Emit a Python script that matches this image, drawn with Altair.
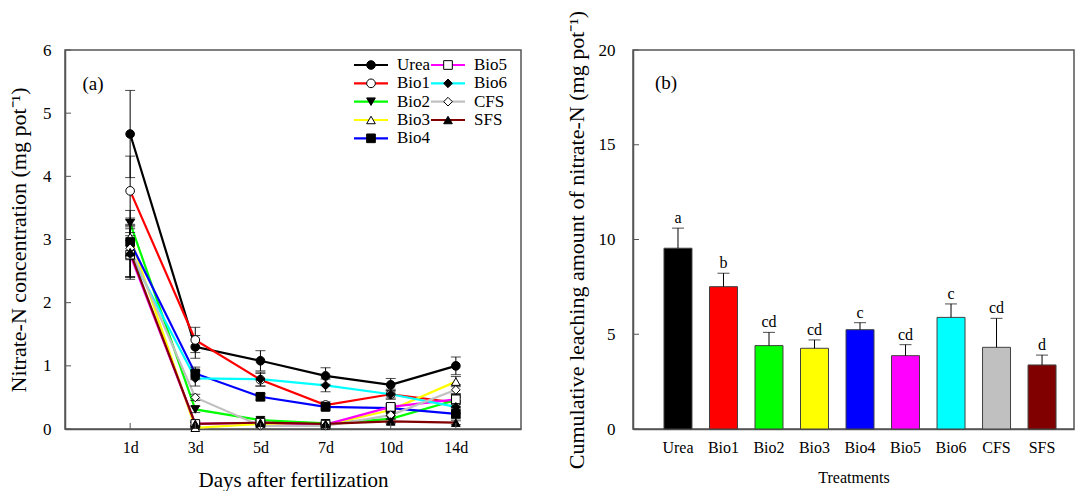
import altair as alt
import pandas as pd

# ---------------- data ----------------
days = ['1d', '3d', '5d', '7d', '10d', '14d']
series = ['Urea', 'Bio1', 'Bio2', 'Bio3', 'Bio4', 'Bio5', 'Bio6', 'CFS', 'SFS']
colors = ['#000000', '#FF0000', '#00FF00', '#FFFF00', '#0000FF',
          '#FF00FF', '#00FFFF', '#C0C0C0', '#800000']
shapes = ['circle', 'circle', 'triangle-down', 'triangle-up', 'square',
          'square', 'diamond', 'diamond', 'triangle-up']
fills = ['black', 'white', 'black', 'white', 'black',
         'white', 'black', 'white', 'black']

urea = [4.67, 1.30, 1.08, 0.84, 0.70, 1.00]
bio1 = [3.77, 1.41, 0.78, 0.38, 0.55, 0.42]
bio2 = [3.26, 0.31, 0.14, 0.09, 0.16, 0.46]
bio3 = [3.04, 0.02, 0.08, 0.06, 0.30, 0.75]
bio4 = [2.96, 0.88, 0.51, 0.35, 0.33, 0.24]
bio5 = [2.76, 0.08, 0.10, 0.07, 0.35, 0.47]
bio6 = [2.77, 0.80, 0.79, 0.69, 0.55, 0.35]
cfs = [2.86, 0.50, 0.05, 0.05, 0.22, 0.62]
sfs = [2.80, 0.08, 0.10, 0.08, 0.12, 0.10]

urea_err = [0.69, 0.18, 0.16, 0.13, 0.10, 0.14]
bio1_err = [0.55, 0.20, 0.10, 0.05, 0.08, 0.08]
bio2_err = [0.20, 0.05, 0.03, 0.02, 0.05, 0.10]
bio3_err = [0.30, 0.02, 0.02, 0.02, 0.05, 0.08]
bio4_err = [0.28, 0.10, 0.05, 0.05, 0.05, 0.08]
bio5_err = [0.35, 0.03, 0.03, 0.02, 0.05, 0.08]
bio6_err = [0.40, 0.12, 0.11, 0.10, 0.06, 0.10]
cfs_err = [0.45, 0.05, 0.02, 0.02, 0.05, 0.08]
sfs_err = [0.40, 0.03, 0.03, 0.02, 0.03, 0.03]

cum = [9.54, 7.51, 4.40, 4.26, 5.24, 3.87, 5.89, 4.31, 3.38]
cum_err = [1.06, 0.71, 0.70, 0.44, 0.37, 0.58, 0.71, 1.53, 0.52]
letters = ['a', 'b', 'cd', 'cd', 'c', 'cd', 'c', 'cd', 'd']

ticks_a = [0, 1, 2, 3, 4, 5, 6]
ticks_b = [0, 5, 10, 15, 20]

values = [urea, bio1, bio2, bio3, bio4, bio5, bio6, cfs, sfs]
errors = [urea_err, bio1_err, bio2_err, bio3_err, bio4_err,
          bio5_err, bio6_err, cfs_err, sfs_err]

rows = []
for s, vals, errs in zip(series, values, errors):
    for d, v, e in zip(days, vals, errs):
        rows.append(dict(series=s, day=d, value=v, lo=max(v - e, 0), hi=v + e))
df = pd.DataFrame(rows)

leg = pd.DataFrame({'series': series, 'idx': list(range(len(series)))})
bars = pd.DataFrame({'treat': series, 'cum': cum,
                     'top': [c + e for c, e in zip(cum, cum_err)],
                     'letter': letters})

# ---------------- style ----------------
FONT = 'Liberation Serif'
W1, H = 456, 379
W2 = 441
AX = '#555555'

color_scale = alt.Scale(domain=series, range=colors)
shape_scale = alt.Scale(domain=series, range=shapes)
fill_scale = alt.Scale(domain=series, range=fills)

# ---------------- panel (a) ----------------
xa = alt.X('day:O', sort=days,
           scale=alt.Scale(type='point', padding=1, domain=days),
           axis=alt.Axis(title='Days after fertilization', labelAngle=0,
                         ticks=False, labelPadding=10, titlePadding=14,
                         labelFontSize=16, titleFontSize=21))
ya = alt.Y('value:Q', scale=alt.Scale(domain=[0, 6], nice=False),
           axis=alt.Axis(title='Nitrate-N concentration (mg pot⁻¹)',
                         values=ticks_a, format='d', ticks=False,
                         labelPadding=14, titlePadding=12,
                         labelFontSize=17, titleFontSize=22))

base = alt.Chart(df)
lines = base.mark_line(strokeWidth=2.2).encode(
    x=xa, y=ya,
    color=alt.Color('series:N', scale=color_scale, legend=None),
    detail='series:N')
err_v = base.mark_rule(color='black', strokeWidth=1).encode(
    x=alt.X('day:O', sort=days), y='lo:Q', y2='hi:Q')
cap_hi = base.mark_tick(color='black', thickness=1, size=10).encode(
    x=alt.X('day:O', sort=days), y='hi:Q')
cap_lo = base.mark_tick(color='black', thickness=1, size=10).encode(
    x=alt.X('day:O', sort=days), y='lo:Q')
points = base.mark_point(filled=True, stroke='black', strokeWidth=1,
                         size=75, opacity=1).encode(
    x=alt.X('day:O', sort=days), y='value:Q',
    shape=alt.Shape('series:N', scale=shape_scale, legend=None),
    fill=alt.Fill('series:N', scale=fill_scale, legend=None))

ytick_a = alt.Chart(pd.DataFrame({'v': ticks_a})).mark_rule(
    color=AX, strokeWidth=1).encode(
    y='v:Q', x=alt.value(0), x2=alt.value(6))
xtick_a = alt.Chart(pd.DataFrame({'day': days})).mark_rule(
    color=AX, strokeWidth=1).encode(
    x=alt.X('day:O', sort=days), y=alt.value(H), y2=alt.value(H - 6))

# custom legend
legbase = alt.Chart(leg).transform_calculate(
    col='floor(datum.idx / 5)', row='datum.idx % 5'
).transform_calculate(
    lx='306 + 77 * datum.col', ly='15 + 18.33 * datum.row'
).transform_calculate(
    lx1='datum.lx - 17', lx2='datum.lx + 17', tx='datum.lx + 26')
leg_line = legbase.mark_rule(strokeWidth=2.2).encode(
    x=alt.X('lx1:Q', scale=None, axis=None),
    x2='lx2:Q',
    y=alt.Y('ly:Q', scale=None, axis=None),
    color=alt.Color('series:N', scale=color_scale, legend=None))
leg_pt = legbase.mark_point(filled=True, stroke='black', strokeWidth=1,
                            size=75, opacity=1).encode(
    x=alt.X('lx:Q', scale=None, axis=None),
    y=alt.Y('ly:Q', scale=None, axis=None),
    shape=alt.Shape('series:N', scale=shape_scale, legend=None),
    fill=alt.Fill('series:N', scale=fill_scale, legend=None))
leg_txt = legbase.mark_text(align='left', baseline='middle', fontSize=17,
                            font=FONT, color='black').encode(
    x=alt.X('tx:Q', scale=None, axis=None),
    y=alt.Y('ly:Q', scale=None, axis=None),
    text='series:N')

label_a = alt.Chart(pd.DataFrame({'t': ['(a)']})).mark_text(
    fontSize=19, font=FONT, color='black').encode(
    x=alt.value(28), y=alt.value(34), text='t:N')

panel_a = alt.layer(lines, err_v, cap_hi, cap_lo, points, ytick_a, xtick_a,
                    leg_line, leg_pt, leg_txt, label_a).properties(
    width=W1, height=H)

# ---------------- panel (b) ----------------
xb = alt.X('treat:N', sort=series,
           scale=alt.Scale(type='band', paddingInner=0.385,
                           paddingOuter=0.538, align=0.633),
           axis=alt.Axis(title='Treatments', labelAngle=0, ticks=False,
                         labelPadding=10, titlePadding=14,
                         labelFontSize=16, titleFontSize=16))
yb = alt.Y('cum:Q', scale=alt.Scale(domain=[0, 20], nice=False),
           axis=alt.Axis(title='Cumulative leaching amount of nitrate-N (mg pot⁻¹)',
                         values=ticks_b, ticks=False, labelPadding=18,
                         titlePadding=10, labelFontSize=17, titleFontSize=22))

bb = alt.Chart(bars)
bar = bb.mark_bar(stroke='#404040', strokeWidth=1).encode(
    x=xb, y=yb,
    color=alt.Color('treat:N', scale=color_scale, legend=None))
berr = bb.mark_rule(color='black', strokeWidth=1).encode(
    x=alt.X('treat:N', sort=series), y='cum:Q', y2='top:Q')
bcap = bb.mark_tick(color='black', thickness=1, size=12).encode(
    x=alt.X('treat:N', sort=series), y='top:Q')
btxt = bb.mark_text(baseline='alphabetic', dy=-5, fontSize=16, font=FONT,
                    color='black').encode(
    x=alt.X('treat:N', sort=series), y='top:Q', text='letter:N')
ytick_b = alt.Chart(pd.DataFrame({'v': ticks_b})).mark_rule(
    color=AX, strokeWidth=1).encode(
    y='v:Q', x=alt.value(0), x2=alt.value(6))
label_b = alt.Chart(pd.DataFrame({'t': ['(b)']})).mark_text(
    fontSize=19, font=FONT, color='black').encode(
    x=alt.value(33), y=alt.value(33), text='t:N')

panel_b = alt.layer(bar, berr, bcap, btxt, ytick_b, label_b).properties(
    width=W2, height=H)

chart = alt.hconcat(panel_a, panel_b, spacing=42).properties(
    padding={'left': 6, 'top': 9, 'right': 0, 'bottom': 0},
    background='white'
).configure_axis(
    labelFont=FONT, titleFont=FONT, labelColor='black', titleColor='black',
    domainColor=AX, domainWidth=1.5, grid=False, titleFontWeight='normal'
).configure_view(
    stroke=AX, strokeWidth=1.5
).configure_text(font=FONT)

chart.save('out.html', embed_options={'renderer': 'svg', 'actions': False})
